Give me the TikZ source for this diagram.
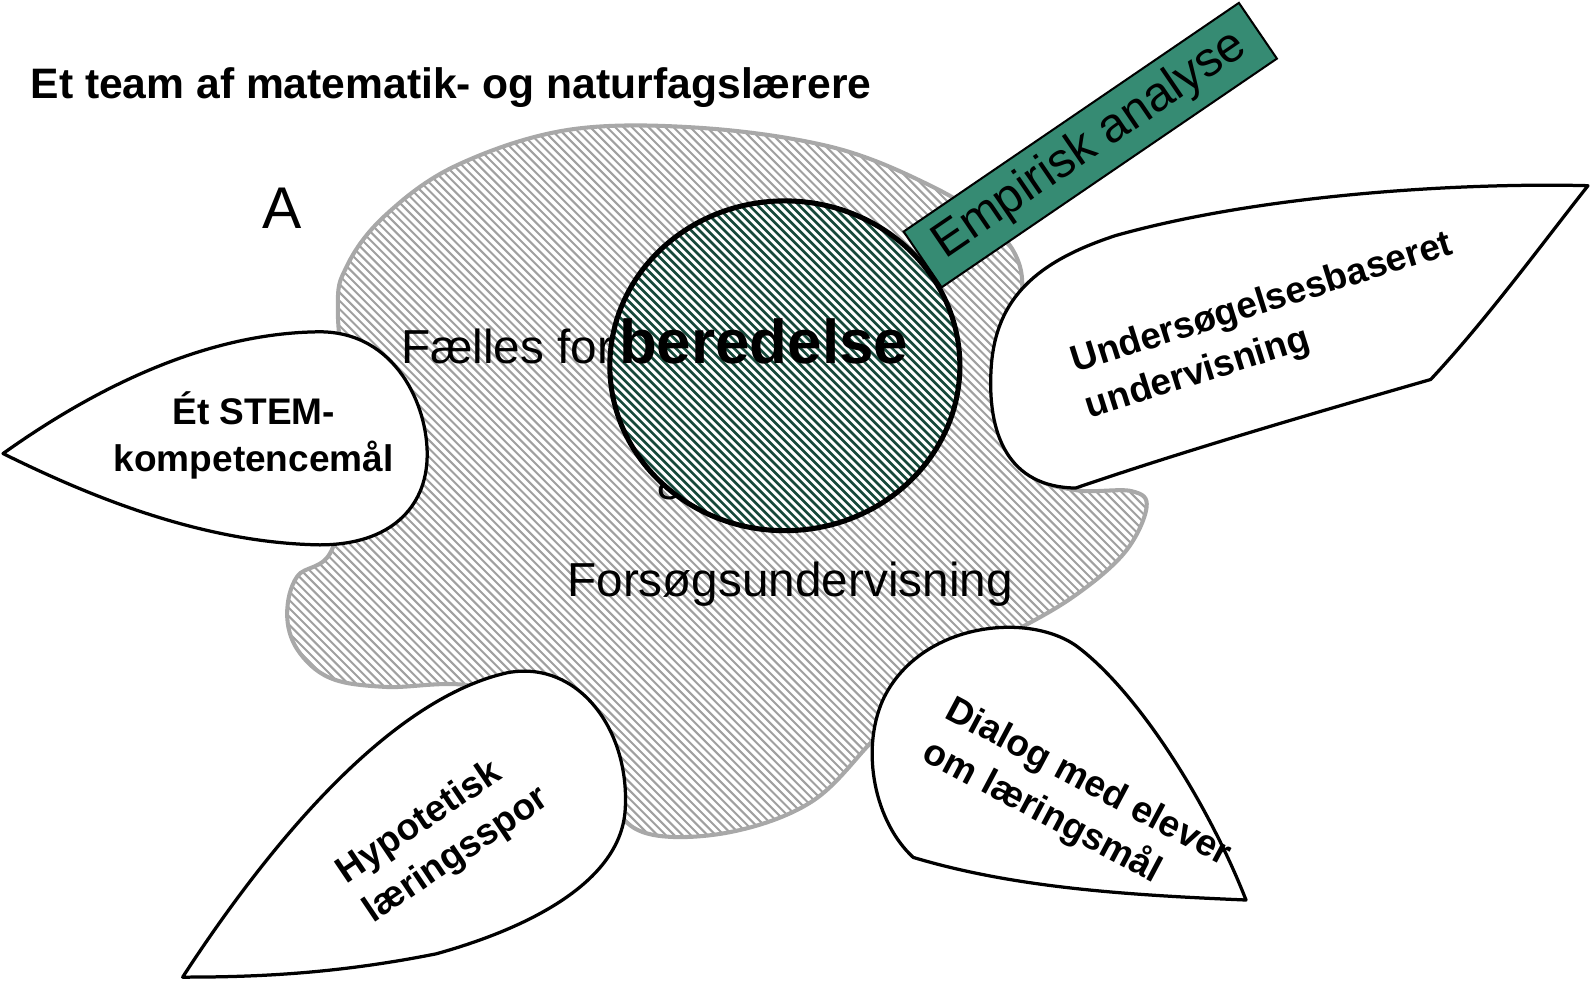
\documentclass[tikz,border=0pt]{standalone}
\usepackage{fontspec}
\setmainfont{Liberation Sans}
\usetikzlibrary{shapes.geometric}
\definecolor{hatchgray}{RGB}{160,160,160}
\definecolor{blobline}{RGB}{168,168,168}
\definecolor{hatchgreen}{RGB}{22,72,58}
\definecolor{empgreen}{RGB}{54,139,115}
\begin{document}
\begin{tikzpicture}[x=1pt,y=-1pt,
  leaf/.style={draw=black, line width=3.2pt, fill=white, line join=round},
  leaftext/.style={font=\fontsize{36.5}{47}\selectfont\bfseries, inner sep=0pt},
  bigtext/.style={font=\fontsize{47}{56}\selectfont, inner sep=0pt},
  graystripe/.style={draw=hatchgray, line width=2pt},
  greenstripe/.style={draw=hatchgreen, line width=2.6pt}]
\useasboundingbox (0,0) rectangle (1568,971);

% hatched background region
\draw[draw=blobline, line width=4pt, fill=white,
  path picture={\foreach \k in {0,...,340} \draw[graystripe] (-1200+8.2*\k,0) -- ++(1000,1000);}]
  plot[smooth cycle, tension=0.6] coordinates {
  (333,310) (342,262) (380,212) (450,163) (560,128) (690,126) (820,145) (915,182)
  (975,220) (1005,262) (1005,320) (998,400) (1015,465) (1060,483) (1115,484) (1130,500)
  (1108,545) (1055,590) (985,630) (920,665) (860,730) (800,790) (720,820) (640,822)
  (600,790) (560,720) (470,677) (380,677) (325,668) (293,640) (283,605) (293,568)
  (327,542) (345,450)};

% labels inside the region
\node[bigtext, anchor=base west] (fael) at (395,358) {Fælles for};
\node[bigtext, anchor=base west] (amp) at (648,492) {\&};
\node[bigtext, anchor=base west] (fors) at (559,588) {Forsøgsundervisning};

% empirical analysis bar
\node[draw=black, line width=2pt, fill=empgreen, rotate=34.3,
  minimum width=400pt, minimum height=66.5pt, inner sep=0pt,
  font=\fontsize{48}{58}\selectfont] (emp) at (1074.5,143) {Empirisk analyse};

% central hatched disc (stripes drawn relative to its centre)
\node[ellipse, draw=black, line width=5pt, fill=white, inner sep=0pt,
  minimum width=345pt, minimum height=325pt,
  path picture={\foreach \k in {-50,...,50}
    \draw[greenstripe] (8.2*\k-400,-400) -- ++(800,800);}]
  (circ) at (773.5,360.5) {};
\node[font=\fontsize{61}{70}\selectfont\bfseries, inner sep=0pt, anchor=base west]
  (bered) at (610,358) {beredelse};

% leaves
\draw[leaf] (3,447) .. controls (90,385) and (200,328) .. (315,327)
  .. controls (390,327) and (422,400) .. (421,450)
  .. controls (420,500) and (385,537) .. (315,537)
  .. controls (200,535) and (90,490) .. (3,447) -- cycle;
\node[leaftext, align=center] (stem) at (250,429) {Ét STEM-\\kompetencemål};

\draw[leaf] (1565,183) .. controls (1450,180) and (1250,190) .. (1100,232)
  .. controls (1020,258) and (982,295) .. (977,360)
  .. controls (972,430) and (995,480) .. (1060,481)
  .. controls (1180,440) and (1320,400) .. (1410,374)
  .. controls (1465,315) and (1520,240) .. (1565,183) -- cycle;
\node[leaftext, align=left, rotate=17.5] (unders) at (1251,322)
  {Undersøgelsesbaseret\\undervisning};

\draw[leaf] (180,963) .. controls (260,840) and (380,690) .. (500,663)
  .. controls (570,650) and (622,720) .. (616,800)
  .. controls (610,870) and (520,915) .. (430,940)
  .. controls (330,960) and (250,963) .. (180,963) -- cycle;
\node[leaftext, align=left, rotate=34] (hypo) at (437,824)
  {Hypotetisk\\læringsspor};

\draw[leaf] (1228,887) .. controls (1190,790) and (1120,680) .. (1060,636)
  .. controls (1010,602) and (905,615) .. (870,690)
  .. controls (848,740) and (862,810) .. (900,845)
  .. controls (1000,875) and (1110,882) .. (1228,887) -- cycle;
\node[leaftext, align=left, rotate=-28] (dialog) at (1061,793)
  {Dialog med elever\\om læringsmål};

% heading and corner letter
\node[font=\fontsize{42}{50}\selectfont\bfseries, inner sep=0pt, anchor=base west]
  (title) at (30,97) {Et team af matematik- og naturfagslærere};
\node[font=\fontsize{58}{66}\selectfont, inner sep=0pt, anchor=base] (lbl) at (278,225) {A};
\end{tikzpicture}
\end{document}
